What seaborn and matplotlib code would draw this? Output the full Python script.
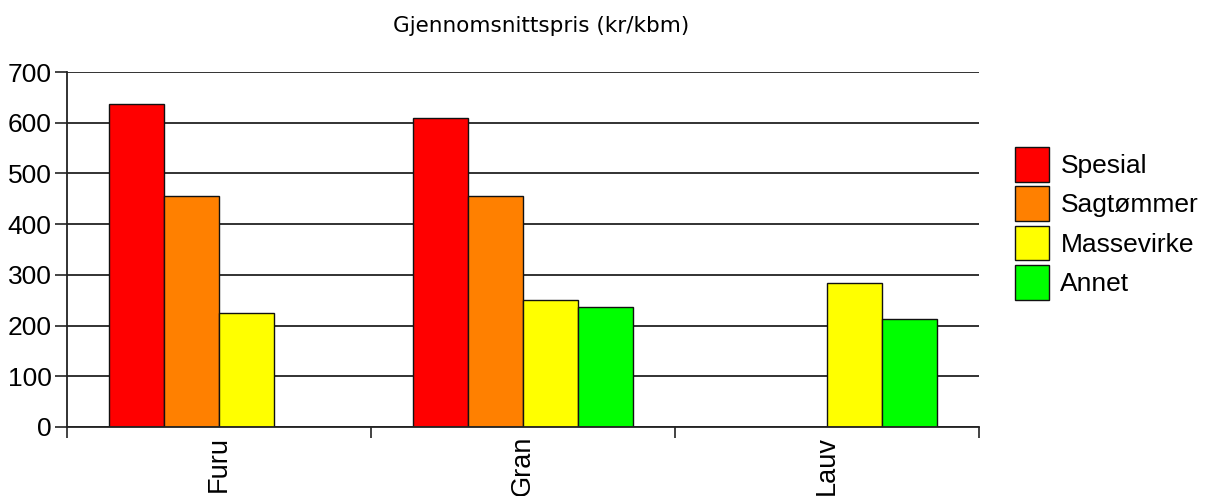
import matplotlib
matplotlib.use('Agg')
import matplotlib.pyplot as plt
import pandas as pd
import seaborn as sns
from matplotlib.patches import Patch

species = ['Furu', 'Gran', 'Lauv']
assortments = ['Spesial', 'Sagtømmer', 'Massevirke', 'Annet']
colors = ['#ff0000', '#ff8000', '#ffff00', '#00ff00']

# None = no bar for that combination
spesial = [637, 610, None]
sagtommer = [455, 456, None]
massevirke = [225, 251, 284]
annet = [None, 237, 212]

rows = []
for name, vals in zip(assortments, [spesial, sagtommer, massevirke, annet]):
    for sp, v in zip(species, vals):
        if v is not None:
            rows.append({'treslag': sp, 'sortiment': name, 'pris': v})
df = pd.DataFrame(rows)

sns.set_style('white')
plt.rcParams['font.family'] = ['Liberation Sans', 'DejaVu Sans']
plt.rcParams['text.color'] = 'black'
plt.rcParams['xtick.color'] = 'black'
plt.rcParams['ytick.color'] = 'black'

fig = plt.figure(figsize=(12.06, 4.96), dpi=100)
ax = fig.add_axes([67 / 1206, 1 - 427 / 496, 912 / 1206, 355 / 496])

sns.barplot(data=df, x='treslag', y='pris', hue='sortiment', order=species,
            hue_order=assortments, palette=colors, width=0.724, dodge=True,
            edgecolor='#111111', linewidth=1.0, saturation=1, legend=False, ax=ax)

ax.set_xlim(-0.5, 2.5)
ax.set_ylim(0, 700)
ax.set_yticks(range(0, 701, 100))
ax.yaxis.grid(True, color='#222222', linewidth=1.3)
ax.set_axisbelow(True)
ax.tick_params(axis='y', length=9, width=1.2, color='#222222', pad=2, labelsize=19,
               labelcolor='black', left=True)
ax.set_xticks([0, 1, 2])
ax.set_xticklabels(species, rotation=90, va='top', ha='center')
ax.set_xticks([-0.5, 0.5, 1.5, 2.5], minor=True)
ax.tick_params(axis='x', which='major', length=0, pad=6.5, labelsize=19.5, labelcolor='black')
ax.tick_params(axis='x', which='minor', length=8, width=1.2, color='#222222', bottom=True)
ax.set_xlabel('')
ax.set_ylabel('')
for s in ['top', 'right']:
    ax.spines[s].set_visible(False)
ax.spines['left'].set_color('#222222')
ax.spines['bottom'].set_color('#222222')
ax.spines['left'].set_linewidth(1.3)
ax.spines['bottom'].set_linewidth(1.3)

handles = [Patch(facecolor=c, edgecolor='#111111', linewidth=1.0) for c in colors]
fig.legend(handles, assortments, loc='upper left',
           bbox_to_anchor=(1015 / 1206, 1 - 147 / 496), frameon=False,
           fontsize=19, handlelength=1.3, handleheight=1.64,
           labelspacing=0.18, handletextpad=0.42, borderpad=0, borderaxespad=0,
           labelcolor='black')

fig.text(541 / 1206, 1 - 26 / 496, 'Gjennomsnittspris (kr/kbm)', ha='center', va='center',
         fontsize=15.5, family='DejaVu Sans', color='black')

fig.savefig('out.png', dpi=100)
